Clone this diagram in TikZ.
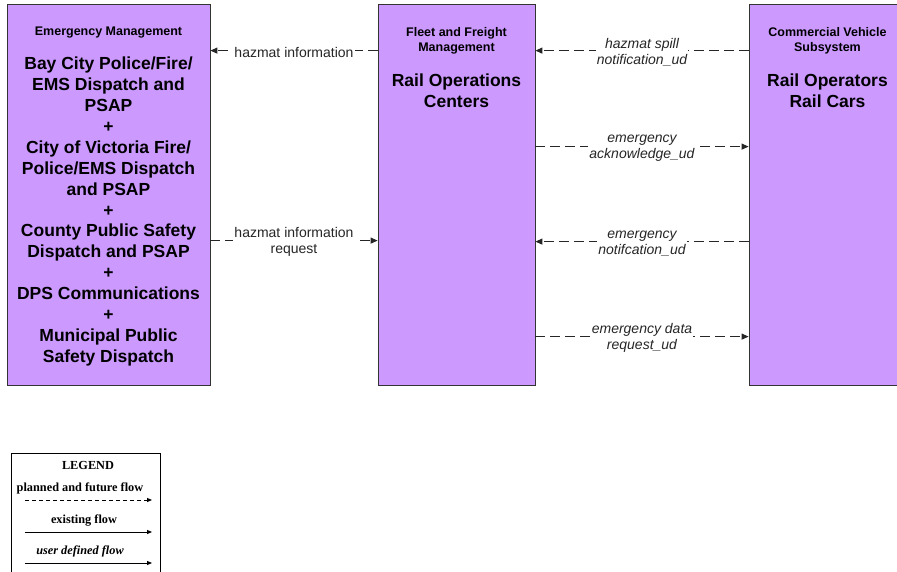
\documentclass[tikz,border=0pt]{standalone}
\usepackage{fontspec}
\setmainfont{Liberation Sans}
\newfontfamily\legendfont{Liberation Serif}
\definecolor{boxpurple}{RGB}{204,153,255}
\usetikzlibrary{arrows.meta,positioning,calc}

\begin{document}
\begin{tikzpicture}[x=1pt, y=-1pt,
  sys/.style={draw=black!80, fill=boxpurple, line width=0.8pt, minimum height=381pt, inner sep=0pt},
  ttl/.style={font=\fontsize{12.5}{15}\selectfont\bfseries, align=center, inner sep=0pt},
  big/.style={font=\fontsize{17.5}{20.9}\selectfont\bfseries, align=center, inner sep=0pt},
  flow/.style={-{Triangle[length=7pt,width=6pt]}, line width=1.1pt, dash pattern=on 10pt off 5pt, black!85},
  lbl/.style={fill=white, inner sep=1pt, yshift=-1.5pt, align=center, font=\fontsize{14}{16}\selectfont},
  ud/.style={lbl, font=\fontsize{14}{16}\selectfont\itshape},
  legtxt/.style={font=\legendfont\fontsize{12.3}{14}\selectfont\bfseries, inner sep=0pt},
  legflow/.style={-{Triangle[length=5pt,width=4pt]}, line width=0.8pt}]
\useasboundingbox (0,0) rectangle (897,571);
\clip (0,0) rectangle (897,571);
% Systems
\node[sys, minimum width=203pt] (em) at (108.5,194.5) {};
\node[sys, minimum width=157pt] (fleet) at (456.5,194.5) {};
\node[sys, minimum width=157pt] (cvs) at (827.5,194.5) {};
% Emergency Management
\node[ttl] (emT) at (108.5,33) {Emergency Management};
\node[big] (emB) at (108.5,211.5) {Bay City Police/Fire/\\EMS Dispatch and\\PSAP\\+\\City of Victoria Fire/\\Police/EMS Dispatch\\and PSAP\\+\\County Public Safety\\Dispatch and PSAP\\+\\DPS Communications\\+\\Municipal Public\\Safety Dispatch};
% Fleet and Freight Management
\node[ttl] (fleetT) at (456.5,40.5) {Fleet and Freight\\Management};
\node[big] (fleetB) at (456.5,90.5) {Rail Operations\\Centers};
% Commercial Vehicle Subsystem
\node[ttl] (cvsT) at (827.5,40.5) {Commercial Vehicle\\Subsystem};
\node[big] (cvsB) at (827.5,90.5) {Rail Operators\\Rail Cars};
% Flows
\draw[flow] ([yshift=-47pt]fleet.north west) -- node[lbl] {hazmat information} ([yshift=-47pt]em.north east);
\draw[flow] ([yshift=-237pt]em.north east) -- node[lbl] {hazmat information\\request} ([yshift=-237pt]fleet.north west);
\draw[flow] ([yshift=-47pt]cvs.north west) -- node[ud] {hazmat spill\\notification\_ud} ([yshift=-47pt]fleet.north east);
\draw[flow] ([yshift=-143pt]fleet.north east) -- node[ud] {emergency\\acknowledge\_ud} ([yshift=-143pt]cvs.north west);
\draw[flow] ([yshift=-238pt]cvs.north west) -- node[ud] {emergency\\notifcation\_ud} ([yshift=-238pt]fleet.north east);
\draw[flow] ([yshift=-333pt]fleet.north east) -- node[ud] {emergency data\\request\_ud} ([yshift=-333pt]cvs.north west);
% Legend
\node[draw, line width=0.8pt, minimum width=149pt, minimum height=130pt, anchor=north west, inner sep=0pt] (legend) at (11,453) {};
\node[legtxt] (legT) at (88,465) {LEGEND};
\node[legtxt] (legP) at (80,488) {planned and future flow};
\node[legtxt] (legE) at (84,521) {existing flow};
\node[legtxt, font=\legendfont\fontsize{12.3}{14}\selectfont\bfseries\itshape] (legU) at (80,551) {user defined flow};
\coordinate (p1) at (25,500);
\coordinate (p2) at (152,500);
\coordinate (e1) at (25,532);
\coordinate (e2) at (152,532);
\coordinate (u1) at (25,563);
\coordinate (u2) at (152,563);
\draw[legflow, dash pattern=on 4pt off 3pt] (p1) -- (p2);
\draw[legflow] (e1) -- (e2);
\draw[legflow] (u1) -- (u2);
\end{tikzpicture}
\end{document}
